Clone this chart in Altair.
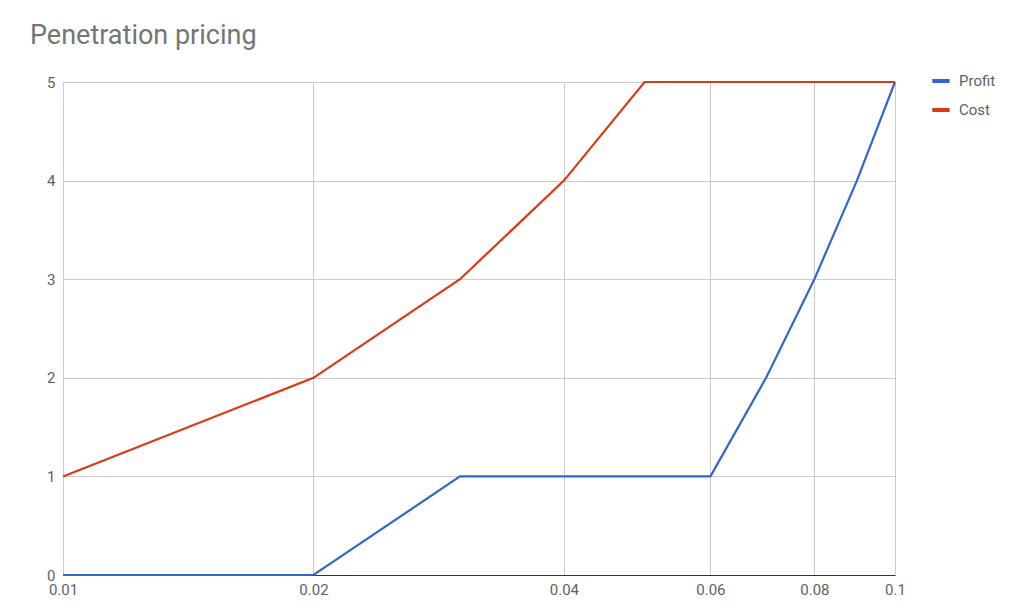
import altair as alt
import pandas as pd

prices = [0.01, 0.02, 0.03, 0.04, 0.05, 0.06, 0.07, 0.08, 0.09, 0.1]
profit = [0, 0, 1, 1, 1, 1, 2, 3, 4, 5]
cost = [1, 2, 3, 4, 5, 5, 5, 5, 5, 5]
series = ["Profit", "Cost"]
colors = ["#3366CC", "#DC3912"]
x_ticks = [0.01, 0.02, 0.04, 0.06, 0.08, 0.1]
y_ticks = [0, 1, 2, 3, 4, 5]

rows = []
for p, a, b in zip(prices, profit, cost):
    rows.append({"price": p, "value": a, "series": "Profit"})
    rows.append({"price": p, "value": b, "series": "Cost"})
df = pd.DataFrame(rows)

chart = alt.Chart(df).mark_line(strokeWidth=2.2).encode(
    x=alt.X("price:Q",
            scale=alt.Scale(type="log", domain=[0.01, 0.1], nice=False),
            axis=alt.Axis(values=x_ticks, title=None, format="~g",
                          labelFontSize=15, labelColor="#5f5f5f",
                          labelPadding=7, ticks=False, domain=True,
                          domainColor="#333333", domainWidth=1.2,
                          gridColor="#cccccc", labelFlush=False)),
    y=alt.Y("value:Q",
            scale=alt.Scale(domain=[0, 5], nice=False),
            axis=alt.Axis(values=y_ticks, title=None, labelFontSize=15,
                          labelColor="#5f5f5f", ticks=False, domain=False,
                          labelPadding=8, gridColor="#cccccc")),
    color=alt.Color("series:N",
                    scale=alt.Scale(domain=series, range=colors),
                    sort=series,
                    legend=alt.Legend(title=None, orient="none",
                                      legendX=867, legendY=-12,
                                      symbolType="stroke", symbolStrokeWidth=4,
                                      symbolSize=300, labelFontSize=15,
                                      labelColor="#5f5f5f", rowPadding=10,
                                      labelOffset=7)),
    order=alt.Order("price:Q"),
).properties(
    width=832,
    height=493,
    title=alt.TitleParams("Penetration pricing", anchor="start", frame="group",
                          fontSize=27, fontWeight="normal", color="#757575",
                          offset=20, dx=-33),
    autosize=alt.AutoSizeParams(type="none"),
    padding={"left": 55, "top": 74, "right": 110, "bottom": 30},
).configure(
    font="Roboto"
).configure_view(
    stroke=None
)

chart.save("out.html", embed_options={"renderer": "svg", "actions": False})
